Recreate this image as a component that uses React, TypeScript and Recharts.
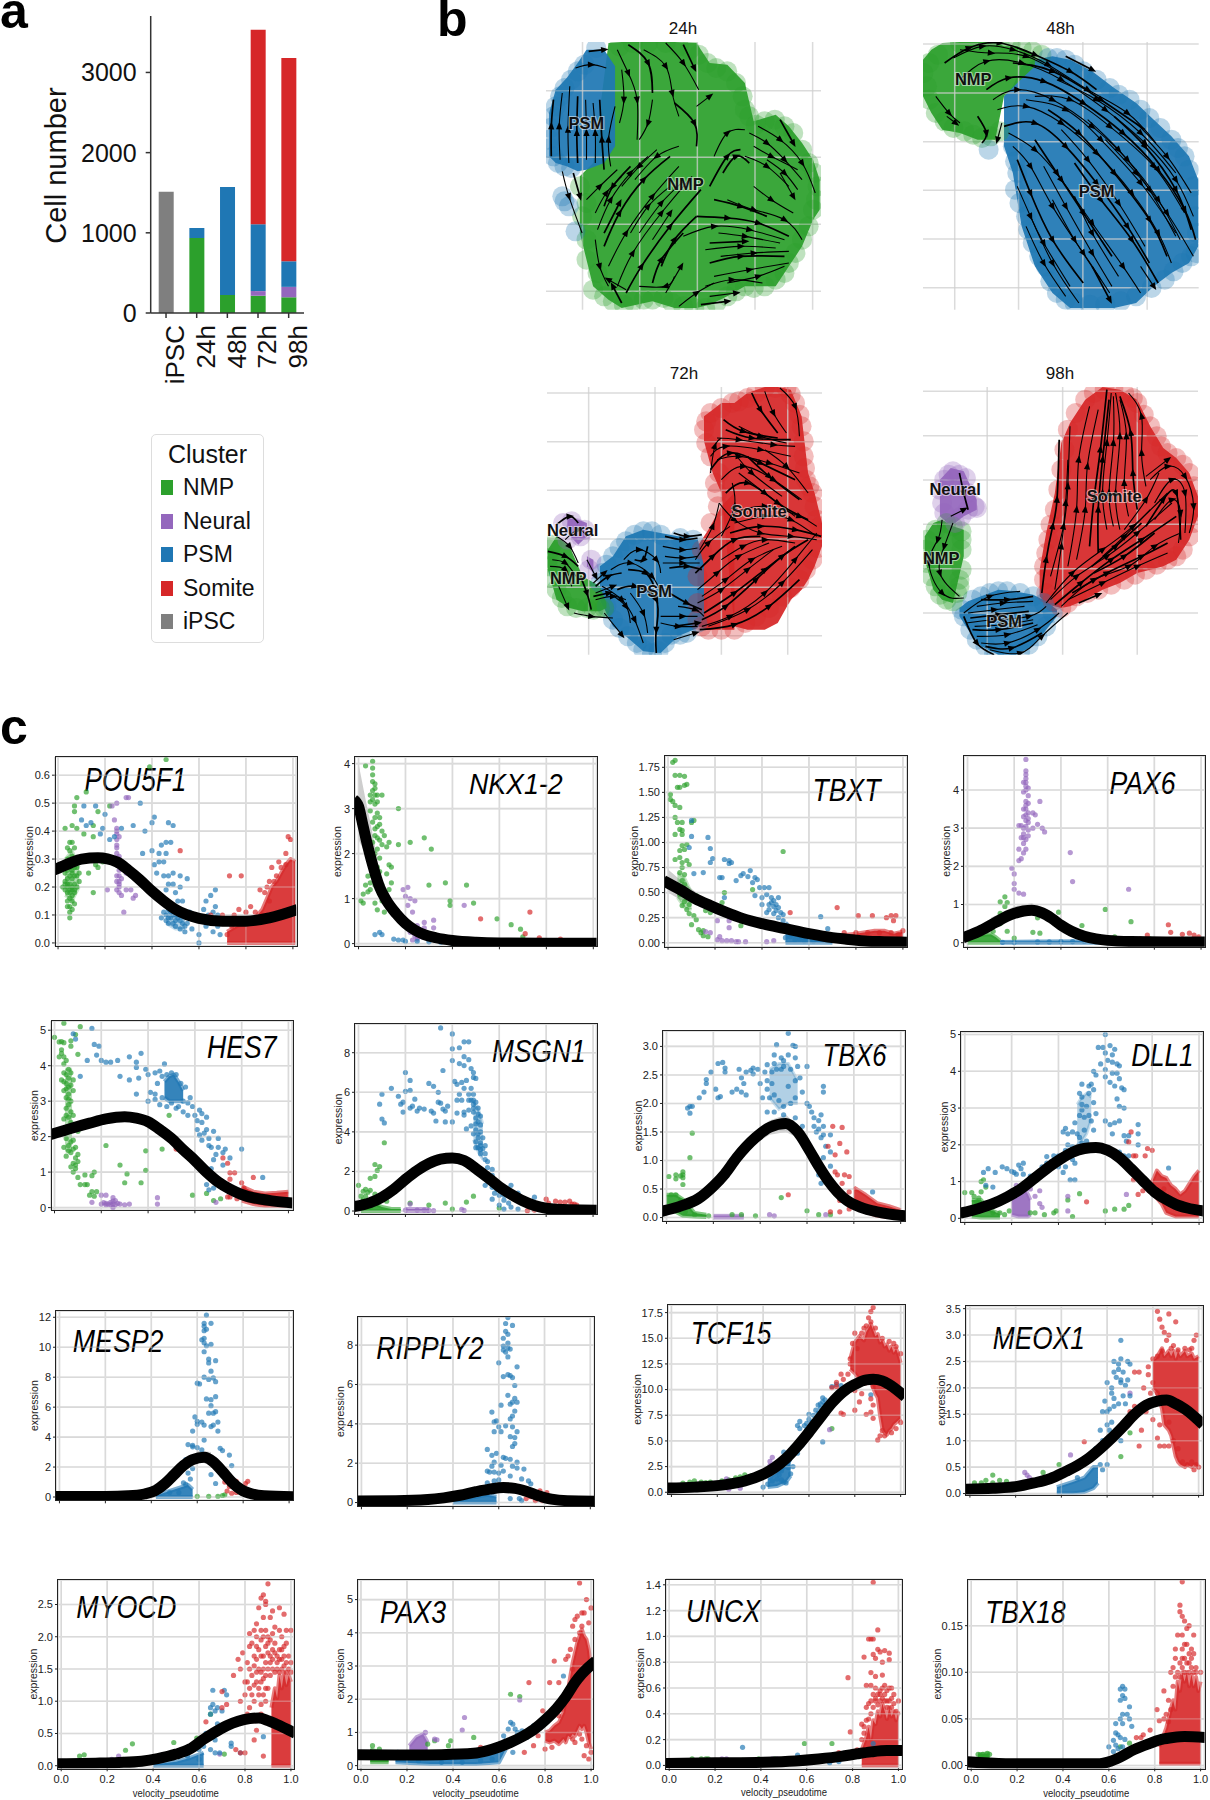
import { BarChart, Bar, ComposedChart, Area, Line, Scatter, XAxis, YAxis, CartesianGrid, ReferenceLine } from 'recharts';

const GREEN = '#2ca02c';
const PURPLE = '#9467bd';
const BLUE = '#1f77b4';
const RED = '#d62728';
const GREY = '#7f7f7f';
const SANS = '"Liberation Sans", Arial, sans-serif';
const NARROW = '"Liberation Sans Narrow", "Liberation Sans", Arial, sans-serif';

// ---- panel a ----
const timepoints = ['iPSC', '24h', '48h', '72h', '98h'];
const nmpCells = [0, 935, 226, 215, 196];
const neuralCells = [0, 0, 0, 58, 130];
const psmCells = [0, 126, 1345, 835, 319];
const somiteCells = [0, 0, 0, 2423, 2535];
const ipscCells = [1513, 0, 0, 0, 0];
const legendNames = ['NMP', 'Neural', 'PSM', 'Somite', 'iPSC'];
const legendColors = [GREEN, PURPLE, BLUE, RED, GREY];

// ---- panel b, read in picture units of the zoomed crops ----
const h24BlueBody = [65,340,470, 80,270,490, 105,235,500, 130,190,515, 150,150,510, 190,150,490, 215,200,440];
const h24GreenBody = [135,530,700, 165,490,860, 200,130,900, 230,127,925, 300,127,905, 350,127,925, 400,130,925, 430,190,915, 470,195,890, 510,250,860, 530,365,860, 580,345,860, 610,380,800, 640,430,740, 665,480,660, 680,540,630];
const h24GreenEdge = [165,870, 190,890, 235,915, 280,900, 325,895, 370,920, 420,925, 470,890, 510,860, 555,860, 610,790, 640,720, 665,630, 675,560, 655,490, 620,400, 578,360, 535,375, 510,330, 490,250, 445,205, 405,165, 360,140, 290,130, 225,140, 150,720, 140,650, 135,560, 150,610, 150,780, 175,820, 210,905, 255,905, 300,900, 345,910, 395,925, 445,910, 490,875, 530,865, 580,840, 600,820, 625,760, 655,680, 672,600, 668,520, 640,450, 600,380, 555,365, 520,350, 505,290, 470,215, 425,190, 385,150, 330,130, 255,130];
const h24BlueEdge = [172,145, 145,195, 115,240, 90,290, 75,350, 65,420, 75,470, 95,590, 110,620, 125,695, 100,500, 130,215, 100,265, 80,320, 68,385, 68,445, 85,490, 115,505, 100,605];
const h24Streams = [
  [70,470,70,380,75,300],[90,480,88,380,95,280],[110,490,108,390,112,260],[130,490,128,400,130,290],[150,480,150,400,148,300],[170,490,170,400,165,310],[190,510,185,420,180,300],[205,500,200,420,215,320],
  [125,205,160,195,195,205],[155,155,190,150],[95,515,110,590,140,700],
  [220,150,245,220,265,300,265,420],[245,135,290,190,300,280],[280,150,330,200,345,280,360,350],[330,130,370,190,405,270],[370,135,395,205],[230,210,235,300,225,370],[300,300,290,370,270,420],[350,310,395,370,400,440],[400,320,430,290],
  [175,690,205,600,250,520,290,470],[190,740,225,640,280,540,340,470],[200,800,240,700,300,590,360,500],[220,860,255,760,320,640,390,530],[240,880,275,800,340,680,410,570],[170,640,195,580,230,530],[150,600,180,560,220,510],[300,850,320,780,370,700],[270,700,320,610,370,545],
  [440,470,470,400,510,390],[430,560,470,470,500,450],[520,400,560,430,600,480,640,540],[540,380,590,420,640,490,670,580],[590,360,620,430],[560,480,600,520,630,570],[470,600,530,630,600,660,640,720],[400,650,470,655,540,670,610,710],[370,710,440,680,520,690,600,720],
  [420,750,500,740,580,745],[430,790,500,770,600,770],[440,830,520,810,610,790],[420,860,480,840,550,850],[410,915,470,905],[430,890,490,880],[360,920,400,880,440,850],[230,910,210,860],[350,830,330,860,270,860],
  [240,870,200,840],[190,700,225,610],[250,700,290,620,340,560],[300,720,340,640],[320,800,350,720,400,650],[330,880,365,800],[450,700,510,710,590,730],[430,730,510,725],[455,770,530,760,610,755],[470,850,540,830,600,800],[440,600,500,620,560,650],[510,470,560,500,610,560],[530,440,570,470,630,510],[460,520,490,470,520,490],[530,560,570,600,620,640],[590,520,620,590],[250,500,210,560,190,620],[310,450,270,500,230,560],[360,440,310,470,260,540],[120,520,135,590],[170,720,180,800,200,860],
];
const h48BlueBody = [1100,290,440, 1120,260,520, 1140,200,680, 1170,180,800, 1210,170,880, 1250,180,925, 1300,215,925, 1350,265,925, 1400,310,910, 1440,360,860, 1480,410,820, 1520,470,790, 1541,540,740];
const h48GreenBody = [916,180,290, 935,150,340, 960,130,390, 1000,127,400, 1040,127,420, 1080,127,420, 1100,140,290, 1130,140,250, 1170,165,200];
const h48GreenEdge = [930,190, 925,260, 945,340, 985,385, 1030,405, 1070,410, 1185,165, 1140,145, 1090,130, 1000,130, 950,165, 917,220, 930,300, 965,365, 1010,395, 1050,415, 1045,130, 1115,135, 1165,155, 1090,395];
const h48BlueEdge = [1065,450, 1120,440, 1130,520, 1125,570, 1150,650, 1165,730, 1195,800, 1220,880, 1260,910, 1330,915, 1400,890, 1465,840, 1505,790, 1535,760, 1535,650, 1530,560, 1510,470, 1480,420, 1430,355, 1385,300, 1340,265, 1280,215, 1240,180, 1200,175, 1125,485, 1135,610, 1155,690, 1180,770, 1205,845, 1240,900, 1295,915, 1365,905, 1435,865, 1485,815, 1525,770, 1538,700, 1535,600, 1520,510, 1495,445, 1455,385, 1410,330, 1360,285, 1310,240, 1260,195, 1220,175];
const h48Streams = [
  [965,190,1020,145,1090,130,1170,165,1250,215,1310,270],[985,175,1050,140,1120,150,1200,195,1290,270,1380,340,1445,430],[1000,240,1060,185,1140,190,1230,240,1330,330,1420,430,1490,540,1530,650],[1060,270,1110,235,1190,245,1280,310,1370,400,1450,510,1510,630,1535,720],[1075,300,1130,270,1210,300,1300,380,1380,480,1450,600,1500,720],[1085,330,1150,320,1230,370,1310,460,1390,580,1450,700,1480,790],[1100,380,1170,370,1240,440,1310,550,1380,680,1430,790],[1110,400,1170,450,1230,540,1300,670,1370,800,1410,880],[1120,440,1160,500,1210,620,1280,760,1340,880],[1130,480,1160,580,1210,720,1280,850],[1130,560,1160,650,1210,790,1270,910],[1150,680,1190,790,1240,890],
  [1260,490,1320,600,1390,720,1450,850],[1330,420,1400,520,1470,640,1530,770],[1400,370,1470,470,1525,580],[1240,170,1300,210],[945,290,975,340,1000,370],[970,350,990,370],[1040,350,1060,400,1050,430],[1095,370,1085,420],
  [1150,300,1240,330,1320,420,1410,550,1490,700],[1200,330,1270,400,1350,520,1430,660,1470,770],[1260,590,1300,700,1360,830],[1190,500,1240,620,1300,760,1345,860],
  [1170,420,1220,520,1280,640,1345,770],[1230,390,1290,480,1360,610,1420,740],[1290,360,1360,450,1430,570,1490,710],[1350,350,1420,440,1490,570,1525,690],[1210,600,1260,720,1320,840],[1410,800,1440,860],[1300,800,1340,900],[1170,290,1250,300,1340,380,1440,500,1510,640],[1220,240,1310,300,1410,400,1490,520],[1120,190,1210,215,1320,300,1420,390],[1000,150,1070,160,1150,170,1250,240],[1160,650,1190,730,1250,860],
];
const h72RedTopBody = [400,170,245, 420,150,340, 440,130,400, 470,130,800, 500,100,810, 540,82,810, 570,82,790, 600,90,720, 625,170,690, 640,340,660, 655,400,620, 672,490,560];
const h72RedLowBody = [385,560,800, 410,510,810, 440,440,810, 470,400,810];
const h72BlueBody = [160,620,720, 190,590,800, 220,530,830, 260,510,875, 300,520,880, 340,530,830, 385,535,805, 400,620,770];
const h72GreenBody = [40,570,630, 60,530,720, 90,560,745, 120,650,755, 160,680,755, 175,730,745];
const h72PurpleBody = [85,475,520, 110,480,555, 130,490,530];
const h72PurpleLow = [130,590,620, 145,600,640];
const h72RedEdge = [400,210, 415,160, 465,130, 500,115, 540,85, 590,85, 610,130, 625,200, 630,290, 635,360, 650,400, 660,480, 670,520, 650,600, 620,660, 580,710, 520,770, 470,810, 410,810, 385,780, 430,400, 435,340, 415,290, 405,185, 440,145, 480,125, 520,100, 565,85, 600,105, 620,165, 630,245, 633,325, 643,380, 655,440, 667,500, 662,565, 635,630, 600,685, 550,745, 495,790, 440,810, 395,800, 385,730, 385,650, 395,570, 415,490, 432,440, 425,370, 405,250];
const h72BlueEdge = [260,515, 300,525, 220,545, 190,590, 165,640, 190,780, 225,830, 260,870, 295,875, 325,825, 360,820, 240,525, 280,515, 205,565, 175,615, 160,670, 175,740, 205,805, 245,850, 280,880, 310,850, 345,825, 385,790, 345,535, 375,540];
const h72GreenEdge = [45,570, 40,620, 60,690, 85,740, 130,745, 160,745, 42,595, 48,655, 72,715, 105,745, 145,750, 50,555, 170,745];
const h72PurpleEdge = [95,485, 115,530, 140,600, 135,630, 75,490, 105,505, 125,510, 85,540];
const h72Streams = [
  [510,100,530,150,570,220],[540,95,560,160,590,220],[575,85,610,140,620,230],[445,180,490,215,570,235],[430,235,480,240,560,255,610,260],[415,290,450,260,530,270,600,290],[415,330,460,280,530,310,610,360],[470,280,510,340,580,410],[480,340,540,400,610,470],[500,290,550,350,620,420],[540,270,590,320,640,400],
  [470,490,540,470,600,480,660,530],[460,520,530,500,610,510,670,530],[435,430,470,480,530,520,600,530,660,540],
  [395,800,460,770,540,700,610,600,660,520],[395,780,450,740,520,660,580,590,640,540],[385,730,440,690,500,630,560,570],[385,690,430,640,480,590,550,550],[380,640,420,590,470,540,530,530],[380,600,410,550,460,500],[390,570,420,500,435,430],[390,810,470,795,550,740,620,660],[440,530,470,440,465,370],[415,340,425,260,440,235],
  [310,530,350,540,385,535],[305,560,350,570,385,565],[310,590,350,595,385,590],[320,625,360,620,395,630],[215,600,250,570,290,600,300,640],[185,630,230,610,280,650,300,700],[200,690,240,680,290,720,290,810,290,880],[165,680,210,720,240,780,260,850],[340,740,380,750,400,770],[330,800,385,790],[300,790,340,800,385,800],[330,840,380,820],[270,560,260,600,240,600],[170,760,210,825],
  [60,530,90,560,110,610],[40,575,80,590,110,620],[45,620,80,630,95,680],[65,680,85,740],[115,650,130,700,140,750],[100,760,140,770,190,775],[130,600,150,650],[150,680,180,650,210,640],[150,700,190,680],[150,720,190,710,220,720],[60,495,90,470,110,490],[80,540,110,510,130,530],
  [480,200,530,230,590,250],[450,210,510,235,600,240],[430,300,480,290,550,310,620,340],[440,360,490,320,560,360,625,420],[450,400,500,370,570,430,640,480],[470,460,540,440,620,470,660,500],[410,800,500,750,580,670,650,570],[400,760,470,700,540,630,610,560],[395,710,450,660,510,600,580,560],[440,600,490,560,540,540,610,550],[330,520,360,530,395,525],[305,610,350,610,390,610],[300,770,350,770,385,770],[320,700,360,730,395,750],[230,700,260,760,270,820],[180,700,220,740,230,790],[225,630,265,640,285,680],[50,600,80,610,105,650],[145,670,170,640],[145,710,180,700],
];
const h98RedBody = [1175,630,710, 1190,520,735, 1210,400,740, 1225,250,745, 1245,190,740, 1280,120,720, 1320,82,690, 1360,90,670, 1400,120,640, 1430,200,630, 1460,265,620, 1490,295,600, 1520,340,540, 1540,410,470];
const h98BlueBody = [990,745,770, 1010,725,810, 1040,710,860, 1080,690,885, 1120,695,885, 1160,705,860, 1190,725,810, 1215,750,770];
const h98GreenBody = [910,530,600, 930,490,690, 950,480,720, 975,500,730, 1000,510,590];
const h98PurpleBody = [945,360,470, 970,325,500, 1000,335,470, 1030,420,450];
const h98RedEdge = [1325,90, 1370,100, 1400,130, 1430,200, 1455,260, 1490,295, 1520,340, 1535,420, 1530,490, 1505,570, 1470,600, 1420,630, 1370,660, 1310,690, 1260,710, 1225,745, 1190,700, 1185,620, 1195,540, 1210,450, 1225,330, 1240,210, 1280,120, 1345,88, 1390,115, 1415,165, 1445,230, 1470,280, 1505,315, 1530,380, 1535,455, 1520,530, 1490,590, 1445,615, 1395,645, 1340,675, 1285,700, 1240,730, 1205,725, 1185,660, 1190,580, 1200,495, 1218,390, 1232,270, 1258,160, 1300,100];
const h98BlueEdge = [1000,770, 1020,720, 1060,700, 1100,695, 1160,710, 1205,760, 1170,830, 1130,875, 1070,880, 1030,840, 995,750, 1040,710, 1080,695, 1130,700, 1185,730, 1190,800, 1150,855, 1100,880, 1050,860, 1015,810];
const h98GreenEdge = [915,540, 915,610, 935,680, 960,720, 985,700, 990,660, 995,570, 995,515, 960,490, 912,570, 925,650, 945,705, 975,725, 990,680, 995,630, 995,540, 975,500, 935,510];
const h98PurpleEdge = [975,335, 955,360, 1005,355, 1025,440, 955,460, 980,490, 1010,450, 965,345, 945,390, 950,430, 990,345, 1010,400, 1030,445, 995,470];
const h98Streams = [
  [1180,700,1190,600,1205,500,1215,420,1220,240],[1200,650,1230,500,1240,380,1245,200],[1240,620,1260,450,1265,300,1290,140],[1290,560,1300,420,1315,270,1330,90],[1330,510,1320,400,1330,250,1340,100],[1360,510,1350,400,1360,230,1350,100],[1400,450,1390,340,1385,220,1360,110],[1420,380,1410,280,1410,170,1380,100],
  [1225,740,1300,660,1380,620,1440,560,1500,520],[1210,735,1270,670,1340,600,1410,540,1490,470],[1190,730,1250,640,1320,570,1390,500,1470,400],[1240,720,1320,670,1400,620,1470,580],[1265,730,1310,705],
  [1430,360,1470,320,1510,350,1530,440,1520,520],[1440,430,1480,360,1510,400,1510,520],[1420,500,1460,420,1490,400,1500,540],[1370,510,1420,420,1450,340],[1320,590,1370,530,1430,450],[1295,620,1350,560,1410,490],
  [950,480,940,540,920,610,950,700,1000,715],[975,490,955,560,945,640,990,710],[990,340,1000,400,1010,450],[970,470,1000,450],
  [1000,760,1060,710,1130,695],[1040,720,1100,720,1160,710],[1010,760,1070,750,1140,740],[1005,790,1070,780,1150,770,1190,740],[1020,810,1080,810,1160,790],[1040,850,1100,850,1170,810,1220,760],[1060,870,1130,880,1180,830,1240,760],[1000,770,1030,850,1070,885],
  [1210,690,1225,560,1235,430,1240,300],[1260,600,1280,450,1285,320,1310,150],[1310,580,1310,450,1320,300,1335,120],[1345,500,1335,400,1345,250,1345,110],[1380,470,1370,370,1375,230,1360,120],[1250,700,1330,640,1410,590,1470,550],[1200,720,1260,650,1330,590,1400,520,1480,430],[1440,480,1480,420,1500,460,1495,550],[1300,640,1370,590,1440,520],[1420,350,1470,300],
  [1030,740,1090,730,1160,725],[1015,775,1080,765,1150,755],[1025,800,1090,795,1160,780],[1030,830,1100,825,1170,795],[1050,860,1110,865,1180,820],
];

// ---- panel c ----
const pou5f1Green = [.04,.13,.05,.09,.06,.12,.05,.16,.04,.18,.03,.19,.06,.19,.05,.21,.07,.21,.04,.23,.06,.23,.08,.24,.09,.25,.03,.25,.05,.27,.07,.27,.06,.29,.04,.3,.06,.31,.05,.33,.07,.34,.06,.36,.03,.41,.06,.42,.07,.47,.07,.49,.08,.52,.12,.54,.08,.41,.11,.39,.15,.38,.13,.25,.16,.28,.15,.18,.17,.27,.19,.29,.15,.42,.17,.47,.22,.49,.39,.63,.46,.656,.02,.2,.03,.22,.04,.2,.05,.19,.06,.17,.07,.18,.08,.2,.09,.22,.04,.26,.05,.24,.07,.24,.08,.27,.06,.26,.05,.29,.03,.27,.08,.3,.04,.34,.05,.36,.07,.3,.06,.15,.04,.15,.05,.13,.07,.14,.05,.11,.06,.2,.05,.18,.04,.21,.07,.19,.03,.21,.06,.25];
const pou5f1Purple = [.25,.41,.25,.39,.25,.37,.24,.44,.25,.34,.25,.32,.26,.3,.25,.28,.26,.26,.26,.24,.25,.22,.26,.2,.26,.18,.27,.17,.28,.11,.29,.19,.31,.19,.32,.16,.33,.17,.21,.19,.25,.5,.29,.52,.3,.52,.23,.49,.27,.23,.29,.25,.25,.4,.26,.38,.25,.35,.26,.22,.25,.24,.26,.21,.25,.19,.27,.27,.26,.31];
const pou5f1Blue = [.11,.49,.16,.49,.1,.44,.12,.42,.14,.43,.19,.41,.2,.46,.18,.39,.22,.37,.24,.38,.27,.41,.32,.42,.35,.5,.37,.4,.4,.43,.41,.45,.47,.43,.49,.42,.4,.33,.44,.35,.46,.36,.48,.36,.43,.32,.46,.32,.43,.29,.45,.29,.41,.28,.36,.32,.42,.25,.45,.24,.47,.24,.49,.25,.52,.24,.55,.23,.47,.21,.49,.21,.52,.2,.5,.18,.46,.19,.43,.16,.51,.15,.44,.09,.46,.1,.48,.09,.5,.08,.47,.12,.49,.13,.5,.06,.52,.05,.54,.04,.54,.06,.57,.05,.58,.1,.6,.09,.62,.12,.63,.15,.65,.17,.67,.19,.62,.08,.65,.07,.67,.13,.68,.1,.66,.04,.69,.03,.6,.03,.6,0,.53,.15,.56,.11,.47,.09,.48,.11,.49,.1,.5,.11,.51,.09,.52,.08,.49,.07,.47,.07,.46,.08,.45,.11,.53,.07,.55,.07,.5,.1,.64,.1,.66,.11,.63,.06,.68,.06];
const pou5f1Red = [.52,.33,.73,.24,.78,.24,.65,.1,.7,.1,.74,.06,.72,.03,.78,.08,.8,.11,.82,.13,.86,.19,.87,.1,.9,.15,.92,.22,.91,.27,.93,.24,.97,.28,.98,.38,.99,.37,.97,.32,.95,.27,.68,.08,.75,.1,.77,.12,.84,.11,.88,.18,.9,.22,.94,.29,.89,.2];
const pou5f1RedBand = [.72,0,.04,.76,0,.06,.8,0,.07,.83,0,.08,.85,0,.1,.87,0,.12,.89,0,.16,.91,0,.2,.93,0,.22,.95,0,.25,.97,0,.28,.99,0,.3,1.01,0,.29];
const pou5f1GreenHaze = [.03,.17,.3,.06,.15,.33,.09,.2,.27];
const pou5f1BlueHaze = [.46,.07,.11,.5,.05,.12,.54,.05,.08];
const pou5f1Curve = [-.02,.26,.05,.285,.1,.3,.17,.305,.25,.29,.3,.26,.35,.225,.4,.185,.45,.15,.5,.12,.55,.1,.6,.088,.7,.078,.8,.078,.9,.09,1.02,.12];

const nkxGreen = [.03,3.95,.06,4.05,.06,3.9,.06,3.75,.07,3.55,.06,3.4,.05,3.3,.07,3.3,.08,3.3,.1,3.3,.05,3.15,.07,3.1,.05,2.95,.08,2.9,.09,2.8,.06,2.7,.08,2.6,.1,2.5,.07,2.4,.11,2.4,.09,2.3,.13,2.25,.1,2.2,.12,2.15,.05,2.1,.07,2,.09,1.9,.05,1.75,.13,1.75,.14,1.7,.07,1.6,.12,1.55,.04,1.5,.08,1.45,.05,1.35,.03,1.3,.07,1.3,.14,1.35,.02,1.1,.04,1.15,.13,1.2,.01,.95,.02,.9,.07,.9,.1,.95,.08,.75,.11,.7,.17,3,.22,2.25,.28,2.35,.31,2.1,.3,1.3,.37,1.35,.46,1.3,.39,.95,.39,.85,.49,.9,.59,.55,.65,.42,.69,.32,.7,.15,.17,2.2,.06,3.6,.07,3.45,.06,3.2,.08,3.15,.07,2.8,.09,2.65,.07,2.55,.08,2.35,.06,2.25,.08,2.1,.06,1.9,.08,1.7,.06,1.5,.09,1.6,.05,1.2,.1,1.3];
const nkxPurple = [.19,1.2,.21,1.25,.2,1.05,.22,1,.24,.95,.21,.85,.23,.7,.2,.5,.25,.4,.28,.47,.28,.35,.32,.52,.32,.35,.45,.85,.22,.25,.24,.17,.25,.13,.25,.1,.27,.15,.23,.08];
const nkxBlue = [.09,.25,.1,.2,.07,.2,.15,.1,.17,.08,.19,.08,.2,.05,.25,.05,.3,.04,.35,.03,.4,.01,.45,.01];
const nkxRed = [.73,.7,.52,.55,.71,.22,.77,.13,.86,.1,.87,.06,.9,.05,.92,.04];
const nkxGrey = [0,2.3,4,.03,2,3.2,.05,1.7,2.7,.08,1.4,1.9];
const nkxCurve = [-.02,3.2,0,3.05,.02,2.6,.04,2.15,.06,1.75,.09,1.25,.12,.95,.16,.67,.2,.45,.24,.3,.28,.2,.33,.13,.4,.07,.5,.03,.6,.015,.8,.01,1.02,.01];

const tbxtGreen = [.02,1.8,.03,1.82,.03,1.67,.05,1.67,.07,1.66,.04,1.55,.05,1.55,.08,1.58,.07,1.57,.01,1.48,.01,1.43,.02,1.41,.03,1.37,.05,1.35,.03,1.25,.04,1.2,.06,1.2,.1,1.2,.11,1.22,.05,1.13,.06,1.12,.06,1.08,.03,1.08,.06,.97,.08,.98,.07,.93,.05,.92,.05,.85,.03,.83,.06,.8,.08,.82,.09,.78,.06,.75,.05,.7,.07,.68,.06,.62,.07,.58,.06,.54,.05,.48,.08,.45,.07,.41,.09,.38,.1,.45,.12,.47,.13,.43,.06,.37,.08,.33,.09,.29,.11,.27,.12,.23,.1,.18,.13,.13,.14,.1,.15,.07,.17,.06,.15,.12,.18,.3,.19,.35,.23,.4,.31,.17,.49,.91,.16,.32,.36,.53,.24,.5];
const tbxtGreenHaze = [.04,.45,.7,.07,.35,.65,.1,.33,.5];
const tbxtPurple = [.21,.22,.26,.22,.18,.1,.21,.03,.23,.02,.25,.02,.27,.02,.29,.01,.3,.01,.33,.01,.22,.06,.26,.15,.45,.02,.42,.01,.16,.11];
const tbxtBlue = [.1,1.22,.1,1.06,.09,.95,.17,1.05,.18,.94,.19,.84,.18,.8,.24,.83,.26,.82,.26,.79,.27,.8,.11,.69,.15,.7,.23,.65,.22,.65,.24,.45,.29,.62,.31,.67,.32,.69,.34,.66,.35,.72,.37,.65,.38,.63,.36,.6,.39,.55,.41,.55,.43,.55,.37,.47,.4,.45,.42,.48,.44,.45,.45,.42,.47,.45,.4,.38,.43,.38,.45,.36,.42,.3,.45,.29,.48,.3,.47,.25,.49,.22,.5,.17,.52,.1,.52,.06,.54,.03,.56,.04,.58,.02,.62,.02,.65,.26,.68,.14,.72,.06,.65,.08,.58,.07,.44,.4,.46,.38,.43,.33,.46,.32,.47,.35,.49,.28,.51,.12,.5,.05,.53,.08,.55,.08,.6,.05];
const tbxtBlueBand = [.5,0,.2,.56,0,.06,.62,0,.03,.7,0,.01];
const tbxtRed = [.52,.3,.72,.35,.81,.27,.87,.27,.93,.25,.95,.27,.97,.27,.96,.22,.7,.05,.75,.1,.8,.1,.85,.1,.9,.1,.95,.1,1,.12,.98,.08];
const tbxtRedBand = [.72,.02,.07,.8,.01,.09,.88,.01,.12,.92,.01,.12,.96,.01,.09,1,.01,.11];
const tbxtGrey = [0,.5,.73,.05,.43,.63,.12,.38,.5];
const tbxtCurve = [-.02,.62,.05,.53,.115,.44,.18,.37,.24,.31,.32,.24,.4,.19,.5,.14,.6,.09,.7,.05,.76,.035,.85,.015,.92,.01,1.02,.005];

const pax6Purple = [.25,4.8,.25,4.5,.25,4.4,.25,4.3,.24,4.2,.25,4.1,.25,4,.24,3.95,.26,3.85,.25,3.7,.26,3.65,.25,3.5,.26,3.4,.24,3.3,.25,3.2,.26,3.15,.22,3.07,.23,3.07,.25,3.05,.26,2.95,.24,2.85,.23,2.75,.25,2.7,.24,2.6,.25,2.45,.22,2.45,.24,2.35,.23,2.2,.22,2.15,.28,3.4,.29,3.35,.31,3.7,.3,3.1,.28,3,.33,2.9,.32,3,.19,1.95,.2,1.8,.2,1.55,.2,1.4,.22,1.3,.24,1.27,.44,2.36,.45,1.6,.69,1.4,.25,4.2,.26,4.05,.25,3.6,.24,3.5,.25,3.35,.26,3.25,.24,3,.26,2.8,.24,2.75];
const pax6Green = [.14,1.07,.16,1.2,.17,1.05,.16,.95,.14,.77,.17,.3,.14,.5,.08,.3,.11,.3,.2,.12,.28,.27,.31,.25,.3,.65,.39,.8,.49,.45,.59,.87,.63,.15,.7,.55,.78,.1];
const pax6GreenBand = [0,0,.1,.05,0,.2,.1,0,.22,.12,0,.15,.14,0,.05];
const pax6Red = [.86,.47,.87,.27,.92,.22,.95,.25,.97,.2,.99,.15,.77,.2,.74,.1,.92,.05,.98,.05];
const pax6Blue = [.15,.01,.2,.01,.3,.02,.35,.02,.4,.03,.45,.03,.5,.04,.55,.03,.6,.01];
const pax6BlueBand = [.14,0,.02,.3,0,.03,.45,0,.04,.6,0,.03];
const pax6Grey = [.1,.35,.65,.2,.65,.95,.275,.72,1.03,.35,.55,.85,.42,.3,.5];
const pax6Curve = [-.02,.13,.05,.3,.12,.53,.18,.72,.24,.83,.275,.85,.32,.78,.36,.64,.4,.46,.445,.3,.5,.17,.55,.1,.6,.06,.7,.03,.85,.02,1.02,.02];

const hes7Green = [.04,5.2,0,4.8,.02,4.67,.03,4.68,.04,4.65,.07,4.7,.07,4.55,.09,4.88,.11,5.1,.03,4.45,.03,4.35,.04,4.25,.05,4.15,.02,4.25,.1,4.32,.04,4.05,.06,3.9,.05,3.75,.06,3.65,.04,3.55,.07,3.45,.05,3.35,.06,3.2,.06,3.05,.06,2.9,.05,2.8,.07,2.7,.06,2.55,.07,2.4,.1,2.15,.05,1.95,.07,1.85,.06,1.75,.08,1.65,.07,1.55,.05,1.45,.09,1.4,.08,1.25,.1,1.3,.07,1.15,.08,1,.1,.85,.11,.65,.13,.65,.14,.65,.13,.92,.16,.9,.17,1,.15,.35,.16,.45,.18,.45,.17,.32,.22,1.75,.28,1.2,.31,.95,.3,.7,.37,.7,.39,1.05,.39,1.6,.46,1.65,.59,.35,.65,.4,.68,.2,.71,.25,.49,2.6,.04,3.8,.07,3.8,.03,3.6,.08,3.6,.05,3.5,.06,3.4,.04,3.3,.08,3.3,.05,3.1,.07,3,.05,2.6,.08,2.6,.04,2.5,.07,2.2,.08,1.9,.04,1.7,.09,1.7,.06,1.6,.1,1.5,.09,1.1,.09,1.2];
const hes7GreenHaze = [.045,1.6,3.9,.075,1.6,3.9];
const hes7Purple = [.16,.15,.2,.35,.22,.35,.2,.1,.22,.12,.24,.15,.25,.28,.26,.2,.27,.12,.28,.1,.3,.08,.32,.1,.44,.28,.44,.1,.69,.15,.25,0,.21,.14,.23,.1,.25,.1,.25,.18,.24,.08,.26,.08,.22,.08];
const hes7Blue = [.08,4.9,.09,4.75,.16,5.05,.17,4.6,.19,4.55,.18,4.3,.14,4.15,.2,4.15,.22,4.1,.24,4.1,.27,4.15,.32,4.25,.35,4.1,.37,4.35,.35,3.95,.39,3.9,.11,3.7,.28,3.7,.32,3.6,.36,3.65,.35,3.2,.4,3.75,.43,3.8,.45,3.85,.47,4.05,.5,3.8,.41,3.25,.43,3.2,.46,3.1,.45,2.9,.4,3,.43,3.05,.48,2.85,.52,2.8,.55,2.7,.57,2.6,.6,2.6,.62,2.75,.65,2.55,.63,2.4,.61,2.2,.65,2.2,.68,2.15,.66,1.95,.63,1.9,.67,1.7,.7,1.7,.69,1.5,.73,1.65,.75,1.4,.72,1.2,.67,1.1,.65,.65,.66,.5,.68,.55,.7,.75,.89,.85,.8,1.65,.44,3.5,.46,3.7,.48,3.75,.52,3.75,.54,3.5,.56,3.4,.58,3.1,.55,3,.5,2.95,.53,2.85,.57,2.95,.59,2.85,.61,2.45,.63,2.65,.62,2.05,.64,2.1,.66,1.75,.7,1.95,.72,1.55,.68,1.35];
const hes7BlueBand = [.47,3.1,3.55,.49,3,3.7,.51,3,3.75,.53,3,3.55,.55,3,3.3];
const hes7Red = [.52,1.65,.72,1.4,.74,1.25,.75,.98,.77,.98,.75,.8,.8,.7,.85,.85,.81,.55,.75,.3,.74,.3,.78,.25,.84,.3,.88,.15];
const hes7RedBand = [.8,.2,.6,.85,.1,.45,.9,.05,.4,.95,.05,.42,1,.05,.45];
const hes7Curve = [-.02,2.05,.08,2.25,.15,2.38,.22,2.5,.3,2.56,.35,2.52,.4,2.42,.45,2.2,.5,1.95,.55,1.63,.6,1.33,.65,1,.7,.72,.75,.52,.8,.37,.87,.25,.93,.19,1.02,.13];

const msgn1Blue = [.35,9.25,.4,8.95,.43,8.25,.45,8.55,.47,8.55,.4,8.2,.4,7.6,.43,7.45,.45,7.8,.47,7.65,.45,7.35,.48,7.2,.49,7,.49,6.75,.5,6.7,.41,6.55,.44,6.5,.46,6.6,.42,6.4,.45,6.2,.48,6.2,.47,5.9,.49,5.9,.43,5.9,.42,5.6,.44,5.6,.47,5.6,.49,5.6,.49,5.4,.51,5.2,.49,5,.47,5.1,.45,5,.45,4.85,.5,4.7,.51,4.5,.48,4.3,.46,4.15,.52,4.35,.5,4.1,.51,3.9,.51,3.7,.52,3.45,.51,3.2,.53,3.15,.52,2.9,.54,2.6,.55,2.2,.57,2.1,.55,1.85,.57,1.8,.54,1.3,.57,1.2,.58,.9,.6,.8,.62,.55,.65,1.3,.68,.9,.66,.7,.75,.7,.65,.2,.68,.1,.6,.3,.62,.1,.7,.5,.1,5.9,.09,5.4,.1,4.65,.11,4.45,.14,6.2,.17,5.8,.19,5.5,.18,5.4,.19,5,.2,6.05,.2,7,.22,6.6,.22,6.1,.22,5.2,.24,5.65,.23,5.3,.26,5.2,.25,5.05,.28,5.15,.3,6.45,.32,6.3,.31,5.05,.32,4.95,.33,4.55,.34,5.5,.35,5.45,.34,6,.36,5.15,.37,5.05,.36,7.1,.37,4.5,.4,4.5,.38,5.3,.42,4.95,.5,5.5,.52,4.8,.5,4.4,.52,4,.53,3.7,.5,3.5,.52,3.3,.54,3.3,.52,3.1,.54,2.9,.48,5.6,.49,5.2,.51,4.9,.49,3.9,.5,3.2,.55,2.5,.56,1.5,.59,1.1,.6,1.05,.57,.6,.62,.8,.64,.4];
const msgn1BlueBand = [.49,3.6,5.5,.51,3,5.2,.53,2.6,4.4];
const msgn1Green = [0,1.3,.02,1,.03,1.1,.04,.95,.05,1.05,.01,.75,.03,.75,.02,.5,.07,.85,.05,1.65,.07,1.75,.08,2.05,.07,2.35,.09,2.25,.11,3.45,.22,.4,.3,.3,.37,.4,.4,.1,.46,.45,.49,.75,.6,.15,.08,.6,.12,.5,.05,.2];
const msgn1GreenBand = [.01,0,.6,.05,0,.5,.1,0,.2,.14,0,.1,.18,0,.1];
const msgn1Purple = [.22,.35,.2,.05,.25,.05,.28,.05,.3,.03,.32,.02,.44,.08,.45,.03];
const msgn1PurpleBand = [.2,0,.1,.3,0,.1];
const msgn1Red = [.8,.6,.81,.4,.84,.5,.86,.45,.88,.45,.9,.5,.91,.35,.92,.35,.93,.3,.72,.02,.75,.05];
const msgn1Curve = [-.02,.22,.05,.42,.1,.7,.15,1.1,.2,1.6,.25,2.05,.3,2.4,.35,2.62,.4,2.68,.45,2.55,.5,2.15,.55,1.7,.6,1.23,.65,.85,.7,.52,.75,.28,.8,.14,.9,.06,1.02,.04];

const tbx6Blue = [.52,3.23,.47,3.03,.54,3.02,.55,3,.46,2.85,.49,2.8,.52,2.85,.55,2.8,.43,2.68,.46,2.7,.5,2.75,.49,2.6,.56,2.65,.6,2.65,.22,2.7,.24,2.72,.25,2.62,.25,2.55,.19,2.55,.17,2.42,.17,2.35,.16,2.2,.14,2.1,.22,2.1,.23,2.12,.21,2.25,.28,2.2,.3,2.25,.33,2.35,.32,2.45,.34,2.55,.36,2.58,.37,2.52,.37,2.62,.39,2.6,.31,2.6,.32,2.2,.34,2.15,.4,2.35,.42,2.55,.41,2.1,.44,2.1,.1,1.95,.09,1.92,.1,1.83,.11,1.95,.43,1.85,.46,1.85,.5,1.8,.55,1.75,.58,1.6,.6,2,.61,1.95,.66,1.8,.67,2.3,.67,2.2,.65,1.55,.63,1.6,.65,1.7,.67,1.6,.67,1.45,.7,1.45,.68,1.25,.66,.85,.65,.75,.66,.6,.68,.7,.7,.9,.88,.45,.43,2.4,.45,2.55,.47,2.6,.5,2.65,.53,2.6,.55,2.4,.57,2.45,.43,2.25,.46,2.15,.48,2.05,.5,1.95,.53,2,.55,2.1,.58,2.2,.45,2.35,.52,2.3,.62,1.85,.63,1.75,.64,1.5,.66,1.4,.65,1,.67,1.05,.7,1.15];
const tbx6BlueHaze = [.44,2.1,2.6,.48,1.9,2.7,.52,2,2.7,.56,2,2.4];
const tbx6Green = [.01,.72,.04,.68,.04,.75,.06,.73,.07,.75,.07,.8,.07,.7,.07,.58,.1,1.05,.11,1.48,.02,.4,.04,.4,.06,.3,.08,.1,.12,.05,.18,.03,.28,.05,.32,.05,.38,.03,.49,.35,.6,.12,.65,.05,.7,.05];
const tbx6GreenBand = [0,.2,.4,.04,.1,.4,.07,.03,.32,.12,.02,.08,.17,.01,.05];
const tbx6Purple = [.44,.05,.46,.03,.68,.05];
const tbx6PurpleBand = [.2,0,.03,.33,0,.03];
const tbx6Red = [.71,1.6,.75,1.58,.74,1.3,.69,1.25,.72,1.1,.77,1.15,.72,.8,.73,.75,.76,.75,.78,.72,.75,.6,.78,.45,.74,.35,.74,.3,.7,.1,.52,.4,.74,.1,.78,.15,.93,.15];
const tbx6RedBand = [.8,.2,.53,.85,.1,.4,.9,.03,.25,.95,.01,.2,1,.01,.13];
const tbx6Grey = [.38,1.3,1.5,.44,1.45,1.7,.51,1.5,1.8,.56,1.4,1.6];
const tbx6Curve = [-.02,.11,.06,.2,.135,.33,.2,.55,.25,.77,.3,1.05,.38,1.4,.44,1.58,.51,1.65,.56,1.5,.61,1.18,.65,.9,.69,.65,.73,.45,.77,.3,.83,.18,.9,.1,1.02,.03];

const dll1Blue = [.6,5,.57,4.65,.59,4.65,.6,4.5,.62,4.7,.64,4.6,.63,4.45,.61,4.3,.58,4.2,.63,4.25,.65,4.2,.66,4.15,.6,4.05,.63,3.95,.65,3.95,.66,3.8,.55,4,.56,3.9,.6,3.85,.62,3.7,.64,3.6,.67,3.55,.68,3.5,.54,3.65,.5,3.65,.53,3.6,.49,3.4,.5,3.3,.53,3.4,.55,3.5,.5,3.1,.52,3.05,.55,3.15,.65,3.25,.66,3.05,.68,3,.56,2.85,.6,2.65,.64,2.6,.62,2.55,.66,2.65,.43,2.45,.42,2.35,.44,2.3,.46,2.35,.48,2.3,.51,2.4,.55,2.4,.63,2.3,.68,2.25,.7,2.25,.74,2.55,.74,2.3,.69,2.1,.74,2,.66,1.8,.64,1.7,.68,1.7,.7,1.7,.1,1.35,.08,1.25,.13,1.25,.16,1.4,.18,1.35,.2,1.28,.21,1.25,.24,1.35,.23,1.45,.25,1.5,.22,1.2,.25,1.2,.28,1.15,.31,1.2,.33,1.4,.35,1.5,.35,1.68,.37,1.55,.38,1.7,.4,1.7,.43,1.85,.45,1.7,.42,1.25,.43,1.4,.45,1.05,.47,1.05,.46,1.6,.47,1.5,.4,1.4,.09,.9,.12,.85,.87,1.37,.47,2.6,.49,2.8,.5,2.95,.51,2.75,.53,2.8,.54,2.65,.49,2.2,.5,2.05,.52,2.1,.46,1.95,.48,1.9,.44,2];
const dll1BlueHaze = [.48,2,3.1,.5,2.1,3.3,.52,2.3,3.4,.54,2.7,3.3];
const dll1Green = [0,.7,.03,.7,.04,.6,.06,.55,.07,.72,.07,1,.08,1.05,.09,.85,.05,.45,.06,.35,.08,.3,.12,.15,.15,.15,.17,.1,.19,.2,.28,.15,.3,.15,.34,.1,.38,.15,.39,.2,.49,.67,.44,.5,.6,.2,.64,.25,.68,.25,.7,.35,.46,.05];
const dll1GreenBand = [.03,.05,.5,.07,.02,.5,.1,.02,.25,.15,.02,.12];
const dll1Purple = [.2,.75,.22,.9,.25,.85,.28,.8,.3,.6,.32,.75,.32,.4,.33,.3,.44,.2,.44,.6,.69,.65];
const dll1PurpleBand = [.2,.1,.6,.23,.05,.85,.25,.05,.85,.27,.05,.65,.28,.1,.5];
const dll1Red = [.7,1.35,.71,2.35,.7,2.08,.72,1.7,.73,1.7,.78,1.9,.8,1.85,.77,1.7,.72,1.05,.74,.65,.76,.75,.78,.95,.52,.45,.85,.8];
const dll1RedBand = [.78,.75,.95,.8,.7,1,.82,.55,1.3,.84,.4,1.15,.86,.15,1.1,.88,.1,.9,.9,.05,.8,.92,.05,.65,.94,.05,.75,.96,.05,.95,.98,.05,1.15,1,.05,1.3];
const dll1Curve = [-.02,.14,.06,.27,.12,.4,.18,.58,.23,.76,.3,1.1,.36,1.4,.41,1.62,.46,1.8,.51,1.9,.56,1.93,.61,1.85,.66,1.65,.71,1.35,.76,1.03,.81,.72,.855,.53,.9,.38,.95,.28,1.02,.2];

const mesp2Blue = [.64,12.15,.63,11.6,.66,11.6,.63,11.4,.64,11.2,.63,11.1,.63,10.6,.63,10.3,.62,10.5,.64,10.1,.66,10.2,.63,9.7,.65,9.2,.68,9.1,.65,8.95,.66,8.4,.63,8,.65,7.85,.67,7.95,.68,7.7,.6,7.6,.61,7.55,.64,6.55,.66,6.5,.68,6.7,.66,6.1,.65,5.6,.67,5.6,.68,5.7,.59,5.35,.6,5.05,.6,4.85,.62,5,.63,4.8,.66,4.7,.67,4.8,.69,5,.69,4.4,.58,4.4,.63,3.8,.7,3.25,.71,3.1,.56,3.5,.58,3.45,.58,3.35,.6,3.3,.62,3.15,.74,2.8,.75,2.1,.68,2.3,.55,2.5,.6,2.5,.58,1.9,.56,1.6,.57,1.2,.68,.9,.66,1.5,.55,.85,.54,.95,.52,.3,.48,.3];
const mesp2BlueBand = [.42,0,.08,.46,0,.3,.5,0,.5,.56,0,.8,.58,0,.5];
const mesp2Red = [.72,1,.74,.7,.75,.9,.77,1.05,.81,.9,.82,1.05,.73,.4,.75,.25,.77,.3,.8,.5,.84,.3,.87,.2];
const mesp2Green = [.6,.05,.65,.05,.69,.05,.71,.1,.72,.15];
const mesp2Grey = [.6,2.4,3.1,.66,2.1,3];
const mesp2Curve = [-.02,.03,.2,.04,.3,.08,.37,.2,.42,.45,.46,.9,.5,1.5,.54,2.1,.58,2.5,.63,2.65,.67,2.35,.71,1.7,.75,1,.79,.5,.84,.2,.89,.08,1.02,.02];

const ripply2Blue = [.64,9.4,.63,9.1,.66,9,.63,8.7,.64,8.55,.62,8.35,.64,8.1,.62,7.95,.64,7.85,.62,7.75,.65,7.8,.63,7.65,.64,7.4,.6,7.1,.62,6.4,.64,6.5,.65,6.45,.66,6.35,.68,6.9,.67,5.95,.64,5.45,.61,4.95,.65,5,.66,5.1,.67,5.3,.68,5.1,.67,4.65,.66,4.4,.65,4.25,.57,4.6,.59,4.15,.58,4.1,.6,3.85,.63,3.9,.66,3.85,.58,3.6,.61,3.6,.65,3.35,.67,3.3,.68,3.6,.67,3,.66,2.85,.55,2.7,.59,2.5,.57,2.4,.62,2.3,.63,2.25,.65,2.2,.68,2.05,.58,2.05,.61,1.9,.57,1.85,.66,1.85,.68,1.75,.55,1.6,.56,1.55,.58,1.55,.6,1.5,.62,1.6,.71,1.7,.65,1.35,.7,1.2,.73,1.1,.74,.95,.55,1,.58,1.1,.6,1.15,.52,.5,.55,.5,.65,.2,.69,.2,.7,.1];
const ripply2BlueBand = [.4,0,.08,.46,0,.2,.55,0,.4,.59,0,.3];
const ripply2Red = [.78,.6,.81,.5,.74,.3,.72,.2,.76,.1,.79,.1];
const ripply2Curve = [-.02,.08,.15,.09,.29,.15,.36,.24,.43,.37,.5,.55,.56,.68,.62,.76,.67,.72,.72,.57,.77,.36,.83,.17,.9,.09,1.02,.07];

const tcf15Red = [.88,18,.87,17.6,.86,17,.87,16.6,.85,16.2,.83,15.5,.8,15.5,.95,14.7,.98,14.2,.78,13,.78,12.5,.77,11.5,.74,11.5,.75,11,.72,10.7,.72,10.3,.7,10.2,.8,9.9,.83,9.6,.82,8.8,.88,8.5,.87,9.1,.8,8,.85,7.6,.87,7.8,.88,7.2,.74,7.7,.75,7.6,.9,5.1,.91,5.5,.92,6,.88,10.3,.83,10.9,.79,14.5,.81,14,.84,16,.89,16,.92,15,.97,14.5,1,13.5,.93,5.5,.96,5.8,.98,6.2,1,6.8];
const tcf15RedBand = [.78,12,13,.8,11.6,14.6,.82,11,15.2,.84,10.8,14.8,.85,10.6,15.6,.87,10.8,16.4,.88,10.2,15.8,.89,9.6,15.2,.9,9.2,15.4,.91,7.5,14.6,.92,6.2,14.8,.93,5.8,14.2,.94,5.6,14.4,.95,6,13.8,.96,6.2,14.2,.97,6.6,13.6,.98,6.8,14,.99,7,13.4,1,7.2,12.6];
const tcf15Blue = [.4,.5,.42,.8,.44,1.1,.46,1.3,.48,1.2,.49,1,.5,.9,.52,1.8,.47,1.7,.48,2.1,.51,2.4,.5,3,.5,3.5,.53,3.8,.53,4.4,.56,4.9,.55,4.4,.57,4.6,.56,6.2,.55,6.5,.56,6.9,.58,6.5,.59,6.7,.59,6.1,.6,7.1,.6,7.6,.62,6.9,.62,7.5,.63,8,.64,8.5,.65,8.2,.66,8.8,.66,9.2,.65,7.6,.64,7.2,.67,9,.67,8.5,.7,10.3,.72,10.5,.74,10.4,.66,4.9,.53,2.5,.87,9.5,.49,3.9,.51,3.3,.52,3.5,.54,4.2,.55,3.8,.57,5.2,.58,5.5,.6,6,.62,6.6,.61,6.8,.63,7,.64,7.7,.65,8.6];
const tcf15BlueBand = [.42,.5,1.3,.46,.6,1.9,.5,1,2.6,.52,1.6,3.2];
const tcf15Green = [.05,.9,.08,1,.1,1.1,.13,1,.15,.95,.17,1,.22,1.1,.25,1.2,.28,1.4,.3,1.5,.32,1.7,.35,1.6,.7,6.2];
const tcf15Purple = [.24,1.3,.27,.7,.3,.4,.44,3.4,.43,3,.43,2.6,.69,6.1,.25,.3];
const tcf15Curve = [-.02,.4,.1,.5,.23,.72,.32,1.1,.4,1.75,.45,2.4,.5,3.3,.55,4.5,.6,5.85,.65,7.3,.7,8.7,.75,9.8,.8,10.5,.85,10.95,.88,11,.92,10.85,.95,10.5,1.02,9.3];

const meox1Red = [.82,3.45,.87,3.4,.83,3.3,.9,3.25,.84,3.15,.85,3.05,.87,3,.98,2.9,.99,3,.86,2.9,.89,2.8,.97,2.75,.74,2.3,.72,2.3,.78,2.4,.8,2.55,.78,2.25,.8,2.1,.76,2,.79,1.9,.7,1.55,.72,1.65,.73,1.6,.76,1.7,.77,1.55,.8,1.4,.83,1.3,.75,1.2,.82,1.05,.83,.9,.74,.9,.85,.9,.87,.9,.5,.98,.98,.45,1,.5,.84,2.7,.88,2.75,.91,2.72,.94,2.75,.96,2.72,.87,1.35,.89,1,.91,.85,.93,.6,.95,.55,.97,.6,.99,.55,.82,2.6,.82,1.9];
const meox1RedBand = [.8,2,2.5,.82,1.9,2.6,.84,1.6,2.75,.85,1.3,2.6,.87,1.2,2.7,.88,1.1,2.6,.89,.9,2.7,.9,.7,2.55,.91,.6,2.7,.92,.55,2.6,.94,.5,2.7,.95,.55,2.6,.97,.5,2.65,.98,.55,2.55,1,.5,2.6];
const meox1Blue = [.66,2.9,.66,2.55,.63,2.5,.65,2.45,.69,2.5,.7,2.45,.63,2.3,.65,2.35,.67,2.3,.64,2.2,.66,2.15,.69,2.15,.66,2.1,.68,2.05,.62,2,.6,2.1,.62,1.9,.63,1.8,.59,1.75,.6,1.55,.61,1.6,.58,1.55,.63,1.65,.65,1.7,.67,1.85,.7,1.85,.68,1.7,.6,1.3,.62,1.35,.61,1.2,.57,1.2,.66,1,.58,1,.57,.9,.55,.85,.57,.55,.6,.55,.58,.45,.47,.3];
const meox1BlueBand = [.38,0,.12,.45,0,.22,.5,.03,.3,.54,.1,.5,.56,.2,.5];
const meox1Green = [.02,.2,.05,.2,.07,.25,.1,.35,.1,.2,.13,.25,.16,.23,.25,.2,.32,.4,.39,.55,.66,.7,.7,1.15];
const meox1Purple = [.24,.4,.25,.35,.26,.3,.27,.25,.22,.2,.28,.2,.44,.73,.7,1.9];
const meox1Curve = [-.02,.08,.1,.1,.2,.13,.28,.2,.35,.28,.42,.42,.47,.53,.52,.67,.57,.85,.62,1.05,.67,1.27,.72,1.5,.77,1.67,.82,1.75,.86,1.77,.9,1.7,.94,1.6,1.02,1.3];

const myocdRed = [.9,2.82,.88,2.65,.87,2.6,.89,2.55,.86,2.45,.89,2.5,.92,2.4,.95,2.45,.97,2.35,.88,2.3,.91,2.3,.85,2.2,.82,2.05,.84,2.1,.87,2.1,.9,2,.93,2.15,.98,2.1,1,2.1,.96,2,.82,1.85,.85,1.85,.89,1.85,.92,1.8,.95,1.8,.97,1.85,.79,1.75,.84,1.7,.87,1.7,.91,1.6,.94,1.6,.96,1.65,.77,1.65,.78,1.5,.82,1.5,.85,1.45,.88,1.5,.91,1.4,.75,1.4,.81,1.3,.84,1.25,.87,1.3,.8,1.1,.83,1.1,.86,1.1,.89,1.2,.78,1,.7,1.15,.72,.95,.7,.9,.84,.7,.87,.8,.9,.7,.63,.68,.85,.55,.84,.4,.8,.2,.76,.25,.78,.2,.88,.15,.78,.7,.8,1.3,.81,1.6,.82,1.2,.83,1.4,.83,1.9,.84,1.55,.84,1,.85,1.3,.85,1.65,.85,2,.86,1.2,.86,1.5,.86,1.8,.87,.95,.87,1.45,.87,1.95,.88,1.1,.88,1.35,.88,1.7,.88,2,.89,1,.89,1.4,.89,1.6,.89,2.1,.9,1.2,.9,1.5,.9,1.75,.9,1.9,.91,1.7,.91,1.95,.92,1.5,.92,1.65,.92,2.05,.93,1.45,.93,1.75,.93,1.9,.94,1.5,.94,1.7,.95,1.45,.95,1.65,.95,2.1,.96,1.5,.96,1.8,.97,1.55,.97,1.7,.98,1.45,.98,1.6,.98,1.9,.99,1.5,.99,1.7,1,1.45,1,1.6,.82,.9,.81,.8];
const myocdRedBand = [.915,0,.9,.93,0,1.2,.94,0,1.05,.95,0,1.4,.96,0,1.2,.97,0,1.45,.98,0,1.25,.99,0,1.4,1,0,1.3];
const myocdBlue = [.66,1.17,.71,1.17,.72,1.1,.66,.95,.65,.9,.68,.9,.65,.8,.67,.85,.7,.85,.68,.65,.69,.55,.63,.5,.65,.45,.67,.4,.62,.3,.6,.25,.65,.25,.74,.35,.74,.3,.69,.2,.67,.2,.78,.2,.55,.15,.6,.1,.88,.45];
const myocdBlueBand = [.4,0,.02,.5,0,.06,.56,0,.12,.62,0,.2];
const myocdGreen = [.08,.15,.1,.17,.05,.05,.28,.24,.31,.34,.49,.36,.59,.43,.65,.8,.71,.18,.15,.05];
const myocdPurple = [.25,.15,.22,.1,.27,.1,.44,.17,.69,.18,.35,.05];
const myocdCurve = [-.02,.03,.15,.04,.25,.05,.35,.07,.42,.11,.5,.18,.56,.26,.62,.41,.66,.5,.72,.62,.77,.69,.82,.73,.86,.74,.9,.7,.94,.64,1.02,.5];

const pax3Red = [.95,5.5,.98,5,1,4.75,.96,4.6,.94,4.5,.93,4.4,.97,4.6,.92,4.2,.96,4.2,.99,4.3,.91,3.5,.9,3.3,.89,3.2,.93,3.8,.95,4,.84,3.15,.86,2.5,.82,2.5,.73,2.5,.92,2.9,.87,1.7,.86,1.5,.79,1.65,.78,1.2,.77,.9,.75,.6,.71,.4,.8,.5,.83,.55,.96,.8,.97,.3,.99,.2,1,.4,.98,.6,.95,.95,.92,.8,.52,.55,.93,.7];
const pax3RedBand = [.8,.75,1,.82,.7,1.05,.84,.75,1.2,.86,.65,1.3,.88,.8,1.6,.89,.7,2,.9,.9,2.3,.91,.85,2.7,.92,.95,3.1,.93,.9,3.4,.94,1.05,3.7,.95,1.2,3.9,.96,1.1,4.1,.97,1.2,3.9,.98,1,3.8,.99,.7,3.5,1,.5,2.9];
const pax3Blue = [.65,1.3,.64,1.1,.66,1.25,.67,1.1,.68,1,.62,.9,.65,.75,.7,1.05,.7,.8,.72,.85,.88,2.7,.75,1.2,.16,.4,.2,.35,.25,.15,.35,.1,.44,.1,.52,.15,.57,.2,.66,.4];
const pax3BlueBand = [.15,.1,.3,.3,.05,.25,.4,.05,.2,.5,.05,.35,.6,.1,.6,.63,.5,.8];
const pax3Green = [.05,.6,.08,.5,.65,2.15,.69,2.08,.49,.85,.39,.75,.38,.6,.29,.65,.32,.75];
const pax3GreenBand = [.04,.1,.5,.08,.1,.4,.12,.1,.25];
const pax3Purple = [.28,1,.32,.8,.33,.78,.45,1.45,.44,1.07,.69,1.98];
const pax3PurpleBand = [.21,.4,.6,.24,.35,.85,.27,.35,.95,.29,.4,.7];
const pax3Curve = [-.02,.33,.2,.32,.35,.33,.49,.37,.55,.45,.6,.56,.65,.7,.7,.87,.75,1.08,.8,1.37,.85,1.72,.89,2.07,.93,2.5,.96,2.76,1.02,3.15];

const uncxRed = [.89,1.42,.91,1.05,.87,.98,.88,.98,.89,.98,.91,.9,.92,.88,.94,.89,.96,.87,.85,.84,.89,.86,.9,.83,.93,.8,.96,.82,.78,.68,.88,.72,.9,.69,.93,.7,.94,.62,.88,.62,.86,.62,.97,.6,.98,.55,.9,.52,.92,.55,.95,.5,1,.5,.87,.48,.88,.4,.86,.35,.85,.25,.79,.26,.84,.2,.82,.07,.74,.1,.7,.05,.82,.12,.89,.45,.9,.5,.91,.47,.91,.55,.92,.5,.92,.58,.93,.52,.93,.6,.94,.5,.94,.55,.95,.45,.95,.58,.96,.5,.96,.6,.97,.45,.97,.52,.98,.48,.99,.42,.88,.5,.89,.55,.9,.6,.87,.36,.86,.45,.85,.3,.84,.32];
const uncxRedBand = [.84,0,.12,.86,0,.22,.87,0,.3,.88,0,.2,.89,0,.35,.9,0,.32,.91,0,.42,.92,0,.38,.93,0,.48,.94,0,.42,.95,0,.36,.96,0,.45,.97,0,.38,.98,0,.42,.99,0,.35,1,0,.42];
const uncxBlue = [.32,.14,.56,.08,.89,.17,.63,.05,.7,.02,.74,.03];
const uncxGreen = [.1,.05,.14,.05,.16,.05,.17,.05,.32,.04,.39,.05,.46,.05,.59,.17,.71,.17,.6,.03];
const uncxPurple = [.23,.05,.25,.05,.45,.05,.47,.05];
const uncxCurve = [-.02,.015,.2,.02,.41,.025,.55,.035,.65,.05,.75,.07,.82,.09,.88,.105,.95,.115,1.02,.115];

const tbx18Red = [.92,.197,.91,.172,.91,.165,.92,.16,.93,.155,.95,.15,.94,.147,.9,.14,.92,.14,.97,.14,.94,.13,.97,.12,.96,.125,.89,.125,.92,.115,.95,.11,.98,.105,1,.1,.88,.105,.87,.1,.84,.08,.81,.06,.82,.048,.78,.038,.75,.033,.74,.03,.72,.03,.84,.05,.86,.047,.87,.06,.9,.1,.91,.095,.91,.11,.92,.105,.93,.1,.93,.115,.94,.11,.95,.1,.95,.12,.96,.105,.97,.1,.98,.1,.89,.095,.88,.085,.89,.115,.92,.125,.93,.13,.96,.115,.85,.055,.86,.07];
const tbx18RedBand = [.82,.002,.02,.85,.002,.04,.87,.002,.06,.88,.002,.07,.89,.002,.06,.9,.002,.09,.91,.002,.08,.92,.002,.1,.93,.002,.09,.94,.002,.1,.95,.002,.085,.96,.002,.098,.97,.002,.085,.98,.002,.095,.99,.002,.08,1,.002,.09];
const tbx18Blue = [.66,.085,.65,.082,.67,.082,.66,.075,.67,.072,.65,.07,.69,.063,.66,.055,.68,.055,.69,.05,.65,.05,.63,.045,.66,.045,.7,.042,.63,.035,.64,.033,.65,.03,.67,.028,.62,.027,.63,.022,.66,.02,.64,.018,.6,.02,.62,.015];
const tbx18Green = [.03,.012,.05,.012,.07,.013,.08,.012,.06,.01,.04,.011,.06,.008,.65,.02,.69,.024];
const tbx18GreenBand = [.03,.008,.012,.08,.008,.013];
const tbx18Curve = [-.02,.004,.15,.002,.4,.002,.56,.002,.6,.004,.65,.009,.71,.017,.77,.023,.83,.028,.88,.03,.93,.031,1.02,.03];

const xTickValues = [0, 0.2, 0.4, 0.6, 0.8, 1];
const ticks05 = [0, 0.5, 1, 1.5, 2, 2.5, 3];

const pts = (flat: number[]) => {
  const out: { x: number; y: number }[] = [];
  for (let i = 0; i < flat.length; i += 2) out.push({ x: flat[i], y: flat[i + 1] });
  return out;
};
const bandRows = (flat: number[]) => {
  const out: { x: number; band: number[] }[] = [];
  for (let i = 0; i < flat.length; i += 3) out.push({ x: flat[i], band: [flat[i + 1], flat[i + 2]] });
  return out;
};

const DotRound = (r: number) => (p: any) => <circle cx={p.cx} cy={p.cy} r={r} fill={p.fill} fillOpacity={p.fillOpacity} />;

function arrowsOf(streams: number[][], kx: number, ky: number) {
  const out: { x: number; y: number; angle: number }[] = [];
  streams.forEach((s) => {
    const n = s.length / 2;
    const idx = n === 2 ? [1] : Array.from({ length: n - 2 }, (_, k) => k + 1);
    idx.forEach((i) => {
      const a = Math.max(i - 1, 0);
      const b = Math.min(i + 1, n - 1);
      const dx = (s[b * 2] - s[a * 2]) * kx;
      const dy = (s[b * 2 + 1] - s[a * 2 + 1]) * ky;
      out.push({ x: s[i * 2], y: s[i * 2 + 1], angle: (Math.atan2(dy, dx) * 180) / Math.PI });
    });
  });
  return out;
}

const ArrowHead = (p: any) => (
  <polygon points="4.5,0 -3,-3.1 -3,3.1" fill="#000" transform={`translate(${p.cx},${p.cy}) rotate(${p.payload.angle})`} />
);
const UmapLabel = (p: any) => (
  <text x={p.cx} y={p.cy + 6} textAnchor="middle" fontFamily={SANS} fontWeight="bold" fontSize={16.5} fill="#111"
    stroke="rgba(255,255,255,0.55)" strokeWidth={2.2} paintOrder="stroke">{p.payload.name}</text>
);

function Umap({ box, xDom, xGrid, yGrid, title, titleX, titleY, bodies, edges, streams, labels }: any) {
  const [left, top, w, h] = box;
  const kx = w / (xDom[1] - xDom[0]);
  const ky = h / (xDom[3] - xDom[2]);
  return (
    <div style={{ position: 'absolute', left, top, width: w, height: h }}>
      <div style={{ position: 'absolute', left: titleX - left - 40, top: titleY - top - 10, width: 80, textAlign: 'center', font: `17px ${NARROW}`, color: '#111' }}>{title}</div>
      <ComposedChart width={w} height={h} margin={{ top: 0, right: 0, bottom: 0, left: 0 }}>
        <XAxis type="number" dataKey="x" domain={[xDom[0], xDom[1]]} hide allowDataOverflow />
        <YAxis type="number" dataKey="y" domain={[xDom[2], xDom[3]]} hide reversed allowDataOverflow />
        {bodies.map(([flat, color]: any, i: number) => (
          <Area key={i} data={bandRows(flat)} dataKey="band" fill={color} fillOpacity={0.93} stroke="none" dot={false} activeDot={false} isAnimationActive={false} />
        ))}
        {edges.map(([flat, color]: any, i: number) => (
          <Scatter key={i} data={pts(flat)} fill={color} fillOpacity={0.3} shape={DotRound(10)} isAnimationActive={false} />
        ))}
        {xGrid.map((v: number) => <ReferenceLine key={`v${v}`} x={v} stroke="#cfcfcf" strokeOpacity={0.75} strokeWidth={1.5} />)}
        {yGrid.map((v: number) => <ReferenceLine key={`h${v}`} y={v} stroke="#cfcfcf" strokeOpacity={0.75} strokeWidth={1.5} />)}
        {streams.map((s: number[], i: number) => (
          <Line key={i} data={pts(s)} dataKey="y" type="natural" stroke="#000" strokeWidth={i % 3 === 0 ? 1.7 : 1.1} dot={false} activeDot={false} isAnimationActive={false} zIndex={650} />
        ))}
        <Scatter data={arrowsOf(streams, kx, ky)} shape={ArrowHead} isAnimationActive={false} zIndex={660} />
        <Scatter data={labels} shape={UmapLabel} isAnimationActive={false} zIndex={670} />
      </ComposedChart>
    </div>
  );
}

const genePanels: any[] = [
  { gene: 'POU5F1', frame: [55.4, 296.6, 756.7, 946], xd: [-.013, 1.014], yd: [-.012, .665], ticks: [0, .1, .2, .3, .4, .5, .6], digits: 1, yOff: 25.7, title: [85, 790.7, 101.6, 33],
    green: pou5f1Green, purple: pou5f1Purple, blue: pou5f1Blue, red: pou5f1Red, redBand: pou5f1RedBand, greenHaze: pou5f1GreenHaze, blueHaze: pou5f1BlueHaze, curve: pou5f1Curve },
  { gene: 'NKX1-2', frame: [354.7, 596.3, 756.7, 946], xd: [-.015, 1.014], yd: [-.06, 4.147], ticks: [0, 1, 2, 3, 4], digits: 0, yOff: 17.7, title: [468.6, 794, 93.7, 30],
    green: nkxGreen, purple: nkxPurple, blue: nkxBlue, red: nkxRed, grey: nkxGrey, curve: nkxCurve },
  { gene: 'TBXT', frame: [665.1, 907, 756, 946.7], xd: [-.013, 1.017], yd: [-.04, 1.863], ticks: [0, .25, .5, .75, 1, 1.25, 1.5, 1.75], digits: 2, yOff: 31, title: [812.6, 800.7, 68, 31],
    green: tbxtGreen, greenHaze: tbxtGreenHaze, purple: tbxtPurple, blue: tbxtBlue, blueBand: tbxtBlueBand, red: tbxtRed, redBand: tbxtRedBand, grey: tbxtGrey, curve: tbxtCurve },
  { gene: 'PAX6', frame: [964.2, 1205, 756, 946.7], xd: [-.015, 1.016], yd: [-.105, 4.89], ticks: [0, 1, 2, 3, 4], digits: 0, yOff: 17.6, title: [1109.8, 794, 66, 31],
    green: pax6Green, greenBand: pax6GreenBand, purple: pax6Purple, blue: pax6Blue, blueBand: pax6BlueBand, red: pax6Red, grey: pax6Grey, curve: pax6Curve },
  { gene: 'HES7', frame: [51.4, 292.6, 1020.7, 1210], xd: [-.015, 1.016], yd: [-.076, 5.26], ticks: [0, 1, 2, 3, 4, 5], digits: 0, yOff: 17, title: [207.4, 1058, 69.6, 31],
    green: hes7Green, greenHaze: hes7GreenHaze, purple: hes7Purple, blue: hes7Blue, blueBand: hes7BlueBand, red: hes7Red, redBand: hes7RedBand, curve: hes7Curve },
  { gene: 'MSGN1', frame: [354.9, 596.5, 1024, 1214], xd: [-.015, 1.015], yd: [-.15, 9.45], ticks: [0, 2, 4, 6, 8], digits: 0, yOff: 17, title: [492, 1061.7, 93.4, 31],
    green: msgn1Green, greenBand: msgn1GreenBand, purple: msgn1Purple, purpleBand: msgn1PurpleBand, blue: msgn1Blue, blueHaze: msgn1BlueBand, red: msgn1Red, curve: msgn1Curve },
  { gene: 'TBX6', frame: [662.8, 904.7, 1030.7, 1220.7], xd: [-.015, 1.018], yd: [-.06, 3.27], ticks: ticks05, digits: 1, yOff: 25, title: [822.4, 1066, 64, 31],
    green: tbx6Green, greenBand: tbx6GreenBand, purple: tbx6Purple, purpleBand: tbx6PurpleBand, blue: tbx6Blue, blueHaze: tbx6BlueHaze, red: tbx6Red, redBand: tbx6RedBand, grey: tbx6Grey, curve: tbx6Curve },
  { gene: 'DLL1', frame: [961, 1202.8, 1031.7, 1221.7], xd: [-.016, 1.016], yd: [-.1, 5.07], ticks: [0, 1, 2, 3, 4, 5], digits: 0, yOff: 17, title: [1131.2, 1066, 62.4, 31],
    green: dll1Green, greenBand: dll1GreenBand, purple: dll1Purple, purpleBand: dll1PurpleBand, blue: dll1Blue, blueHaze: dll1BlueHaze, red: dll1Red, redBand: dll1RedBand, curve: dll1Curve },
  { gene: 'MESP2', frame: [56, 293, 1310.7, 1500], xd: [-.015, 1.017], yd: [-.22, 12.42], ticks: [0, 2, 4, 6, 8, 10, 12], digits: 0, yOff: 22, title: [72.8, 1351.7, 90.6, 31],
    green: mesp2Green, blue: mesp2Blue, blueBand: mesp2BlueBand, red: mesp2Red, grey: mesp2Grey, curve: mesp2Curve },
  { gene: 'RIPPLY2', frame: [358, 594.2, 1316.7, 1506], xd: [-.015, 1.017], yd: [-.19, 9.43], ticks: [0, 2, 4, 6, 8], digits: 0, yOff: 17.5, title: [376.3, 1358.3, 107.4, 31],
    blue: ripply2Blue, blueBand: ripply2BlueBand, red: ripply2Red, curve: ripply2Curve },
  { gene: 'TCF15', frame: [668.2, 904.3, 1305, 1494], xd: [-.015, 1.015], yd: [-.17, 18.24], ticks: [0, 2.5, 5, 7.5, 10, 12.5, 15, 17.5], digits: 1, yOff: 31.4, title: [691, 1344.3, 80.5, 31],
    green: tcf15Green, purple: tcf15Purple, blue: tcf15Blue, blueBand: tcf15BlueBand, red: tcf15Red, redBand: tcf15RedBand, curve: tcf15Curve },
  { gene: 'MEOX1', frame: [965.9, 1202.4, 1305.7, 1494.3], xd: [-.017, 1.017], yd: [-.02, 3.55], ticks: [0, .5, 1, 1.5, 2, 2.5, 3, 3.5], digits: 1, yOff: 25, title: [992.7, 1349, 92, 31],
    green: meox1Green, purple: meox1Purple, blue: meox1Blue, blueBand: meox1BlueBand, red: meox1Red, redBand: meox1RedBand, curve: meox1Curve },
  { gene: 'MYOCD', frame: [57.7, 293.4, 1580, 1768.3], xd: [-.014, 1.012], yd: [-.04, 2.88], ticks: [0, .5, 1, 1.5, 2, 2.5], digits: 1, yOff: 25, title: [76, 1617.7, 100, 32], bottomRow: true,
    green: myocdGreen, purple: myocdPurple, blue: myocdBlue, blueBand: myocdBlueBand, red: myocdRed, redBand: myocdRedBand, curve: myocdCurve },
  { gene: 'PAX3', frame: [357.5, 593.1, 1580, 1768.3], xd: [-.013, 1.011], yd: [-.08, 5.59], ticks: [0, 1, 2, 3, 4, 5], digits: 0, yOff: 17.5, title: [379.6, 1622.7, 66, 32], bottomRow: true,
    green: pax3Green, greenBand: pax3GreenBand, purple: pax3Purple, purpleBand: pax3PurpleBand, blue: pax3Blue, blueBand: pax3BlueBand, red: pax3Red, redBand: pax3RedBand, curve: pax3Curve },
  { gene: 'UNCX', frame: [665.5, 901.6, 1579.3, 1768.3], xd: [-.014, 1.016], yd: [-.02, 1.445], ticks: [0, .2, .4, .6, .8, 1, 1.2, 1.4], digits: 1, yOff: 25.7, title: [685.4, 1622, 74.6, 32], bottomRow: true,
    green: uncxGreen, purple: uncxPurple, blue: uncxBlue, red: uncxRed, redBand: uncxRedBand, curve: uncxCurve },
  { gene: 'TBX18', frame: [967.8, 1204.3, 1580, 1768.3], xd: [-.014, 1.017], yd: [-.003, .199], ticks: [0, .05, .1, .15], digits: 2, yOff: 30.6, title: [985, 1623.3, 80.4, 32], bottomRow: true,
    green: tbx18Green, greenBand: tbx18GreenBand, blue: tbx18Blue, red: tbx18Red, redBand: tbx18RedBand, curve: tbx18Curve },
];

const PAD_LEFT = 46;
const PAD_TOP = 6;
const PAD_RIGHT = 6;
const PAD_BOTTOM = 32;

function GenePanel({ p }: any) {
  const [L, R, T, B] = p.frame;
  const w = R - L;
  const h = B - T;
  const [tx, ty, tw, ts] = p.title;
  const series: any[] = [['green', GREEN], ['purple', PURPLE], ['blue', BLUE], ['red', RED]];
  return (
    <div style={{ position: 'absolute', left: L - PAD_LEFT, top: T - PAD_TOP }}>
      <ComposedChart width={w + PAD_LEFT + PAD_RIGHT} height={h + PAD_TOP + PAD_BOTTOM} margin={{ top: PAD_TOP, right: PAD_RIGHT, bottom: 0, left: 0 }}>
        <CartesianGrid stroke="#d4d4d4" strokeWidth={1.6} />
        <XAxis type="number" dataKey="x" domain={p.xd} ticks={xTickValues} allowDataOverflow height={PAD_BOTTOM} axisLine={false} tickSize={3} tickMargin={4}
          interval={0} tick={{ fontSize: 11, fontFamily: NARROW, fill: '#222' }} stroke="#222" tickFormatter={(v: number) => (p.bottomRow ? v.toFixed(1) : '')} />
        <YAxis type="number" dataKey="y" domain={p.yd} ticks={p.ticks} allowDataOverflow width={PAD_LEFT} axisLine={false} tickSize={3} tickMargin={2}
          interval={0} tick={{ fontSize: 11, fontFamily: NARROW, fill: '#222' }} stroke="#222" tickFormatter={(v: number) => v.toFixed(p.digits)} />
        {p.grey && <Area data={bandRows(p.grey)} dataKey="band" fill="#c9c9c9" fillOpacity={0.9} stroke="none" dot={false} activeDot={false} isAnimationActive={false} />}
        {series.map(([k, c]) => p[`${k}Haze`] && (
          <Area key={`${k}h`} data={bandRows(p[`${k}Haze`])} dataKey="band" fill={c} fillOpacity={0.35} stroke={c} strokeOpacity={0.25} strokeWidth={3} dot={false} activeDot={false} isAnimationActive={false} />
        ))}
        {series.map(([k, c]) => p[`${k}Band`] && (
          <Area key={`${k}b`} data={bandRows(p[`${k}Band`])} dataKey="band" fill={c} fillOpacity={0.9} stroke={c} strokeOpacity={0.6} strokeWidth={4} strokeLinejoin="round" dot={false} activeDot={false} isAnimationActive={false} />
        ))}
        {series.map(([k, c]) => p[k] && (
          <Scatter key={k} data={pts(p[k])} fill={c} fillOpacity={0.68} shape={DotRound(2.6)} isAnimationActive={false} />
        ))}
        <CartesianGrid stroke="#e4e4e4" strokeOpacity={0.35} strokeWidth={1.4} zIndex={640} />
        <Line data={pts(p.curve)} dataKey="y" type="monotone" stroke="#000" strokeWidth={11} dot={false} activeDot={false} isAnimationActive={false} zIndex={650} />
        <text x={tx - L + PAD_LEFT} y={ty - T + PAD_TOP} fontFamily={SANS} fontStyle="italic" fontSize={ts} textLength={tw} lengthAdjust="spacingAndGlyphs" fill="#000">{p.gene}</text>
        <text transform={`translate(${PAD_LEFT - p.yOff + 4},${PAD_TOP + h / 2}) rotate(-90)`} textAnchor="middle" fontFamily={SANS} fontSize={10.5} fill="#222">expression</text>
        {p.bottomRow && <text x={PAD_LEFT + w / 2} y={h + PAD_TOP + 28.5} textAnchor="middle" fontFamily={SANS} fontSize={10} textLength={86} lengthAdjust="spacingAndGlyphs" fill="#222">velocity_pseudotime</text>}
      </ComposedChart>
      <div style={{ position: 'absolute', left: PAD_LEFT - 0.75, top: PAD_TOP - 0.75, width: w, height: h, border: '1.5px solid #222', boxSizing: 'content-box', pointerEvents: 'none' }} />
    </div>
  );
}

const barRows = timepoints.map((t, i) => ({ t, nmp: nmpCells[i], neural: neuralCells[i], psm: psmCells[i], somite: somiteCells[i], ipsc: ipscCells[i] }));

const letter = (s: string, x: number, y: number) => (
  <div style={{ position: 'absolute', left: x, top: y, font: `bold 50px ${SANS}`, lineHeight: '50px', color: '#000' }}>{s}</div>
);

export default function App() {
  return (
    <div style={{ position: 'absolute', left: 0, top: 0, width: 1210, height: 1800, background: '#fff', overflow: 'hidden' }}>
      {letter('a', 0, -14)}
      {letter('b', 437, -6)}
      {letter('c', 0, 702)}

      <div style={{ position: 'absolute', left: 0, top: 10 }}>
        <BarChart width={310} height={378} data={barRows} margin={{ top: 6, right: 6, bottom: 0, left: 0 }} barCategoryGap="50%">
          <XAxis dataKey="t" height={75} interval={0} tickSize={5} tickMargin={7} angle={-90} textAnchor="end" stroke="#333" strokeWidth={1.5}
            tick={{ fontSize: 26, fontFamily: SANS, fill: '#111', dy: 0 }} />
          <YAxis domain={[0, 3704]} ticks={[0, 1000, 2000, 3000]} width={150.7} tickSize={5} tickMargin={9} stroke="#333" strokeWidth={1.5} allowDataOverflow
            tick={{ fontSize: 25, fontFamily: SANS, fill: '#111' }} />
          <Bar dataKey="ipsc" stackId="a" fill={GREY} barSize={15} isAnimationActive={false} />
          <Bar dataKey="nmp" stackId="a" fill={GREEN} barSize={15} isAnimationActive={false} />
          <Bar dataKey="neural" stackId="a" fill={PURPLE} barSize={15} isAnimationActive={false} />
          <Bar dataKey="psm" stackId="a" fill={BLUE} barSize={15} isAnimationActive={false} />
          <Bar dataKey="somite" stackId="a" fill={RED} barSize={15} isAnimationActive={false} />
          <text transform="translate(66,155.6) rotate(-90)" textAnchor="middle" fontFamily={SANS} fontSize={29} fill="#111">Cell number</text>
        </BarChart>
      </div>

      <div style={{ position: 'absolute', left: 151, top: 434, width: 113, height: 209, border: '1.5px solid #ddd', borderRadius: 5, boxSizing: 'border-box', fontFamily: SANS, color: '#111' }}>
        <div style={{ position: 'absolute', left: 0, width: '100%', top: 4, textAlign: 'center', fontSize: 25, lineHeight: '30px' }}>Cluster</div>
        {legendNames.map((name, i) => (
          <div key={name}>
            <div style={{ position: 'absolute', left: 8.5, top: 45 + i * 33.5, width: 12, height: 15, background: legendColors[i] }} />
            <div style={{ position: 'absolute', left: 31, top: 38 + i * 33.5, fontSize: 23, lineHeight: '28px' }}>{name}</div>
          </div>
        ))}
      </div>

      <Umap box={[545.5, 42.3, 275, 267.7]} xDom={[58, 683, 127, 930]} xGrid={[141, 271, 402, 533, 664]} yGrid={[273, 473, 674, 875]} title="24h" titleX={683} titleY={29}
        bodies={[[h24GreenBody, GREEN], [h24BlueBody, BLUE]]} edges={[[h24GreenEdge, GREEN], [h24BlueEdge, BLUE]]} streams={h24Streams}
        labels={[{ x: 150, y: 370, name: 'PSM' }, { x: 375, y: 552, name: 'NMP' }]} />
      <Umap box={[923, 42.3, 275.7, 267.7]} xDom={[916, 1542, 127, 930]} xGrid={[988, 1133, 1279, 1425]} yGrid={[133, 280, 426, 572, 718, 864]} title="48h" titleX={1060.5} titleY={29}
        bodies={[[h48BlueBody, BLUE], [h48GreenBody, GREEN]]} edges={[[h48GreenEdge, GREEN], [h48BlueEdge, BLUE]]} streams={h48Streams}
        labels={[{ x: 1030, y: 238, name: 'NMP' }, { x: 1310, y: 575, name: 'PSM' }]} />
      <Umap box={[546.5, 387.3, 275, 267.7]} xDom={[38, 672, 82, 885]} xGrid={[134, 287, 440, 593]} yGrid={[100, 246, 392, 538, 683, 828]} title="72h" titleX={684} titleY={374}
        bodies={[[h72RedTopBody, RED], [h72RedLowBody, RED], [h72BlueBody, BLUE], [h72GreenBody, GREEN], [h72PurpleBody, PURPLE], [h72PurpleLow, PURPLE]]}
        edges={[[h72RedEdge, RED], [h72BlueEdge, BLUE], [h72GreenEdge, GREEN], [h72PurpleEdge, PURPLE]]} streams={h72Streams}
        labels={[{ x: 97, y: 510, name: 'Neural' }, { x: 87, y: 655, name: 'NMP' }, { x: 285, y: 693, name: 'PSM' }, { x: 527, y: 455, name: 'Somite' }]} />
      <Umap box={[923, 387.3, 275.4, 267.7]} xDom={[906, 1541, 82, 885]} xGrid={[1054, 1228, 1400]} yGrid={[95, 228, 361, 494, 627, 760]} title="98h" titleX={1060} titleY={374}
        bodies={[[h98RedBody, RED], [h98BlueBody, BLUE], [h98GreenBody, GREEN], [h98PurpleBody, PURPLE]]}
        edges={[[h98RedEdge, RED], [h98BlueEdge, BLUE], [h98GreenEdge, GREEN], [h98PurpleEdge, PURPLE]]} streams={h98Streams}
        labels={[{ x: 980, y: 388, name: 'Neural' }, { x: 948, y: 595, name: 'NMP' }, { x: 1093, y: 785, name: 'PSM' }, { x: 1347, y: 408, name: 'Somite' }]} />

      {genePanels.map((p) => <GenePanel key={p.gene} p={p} />)}
    </div>
  );
}
